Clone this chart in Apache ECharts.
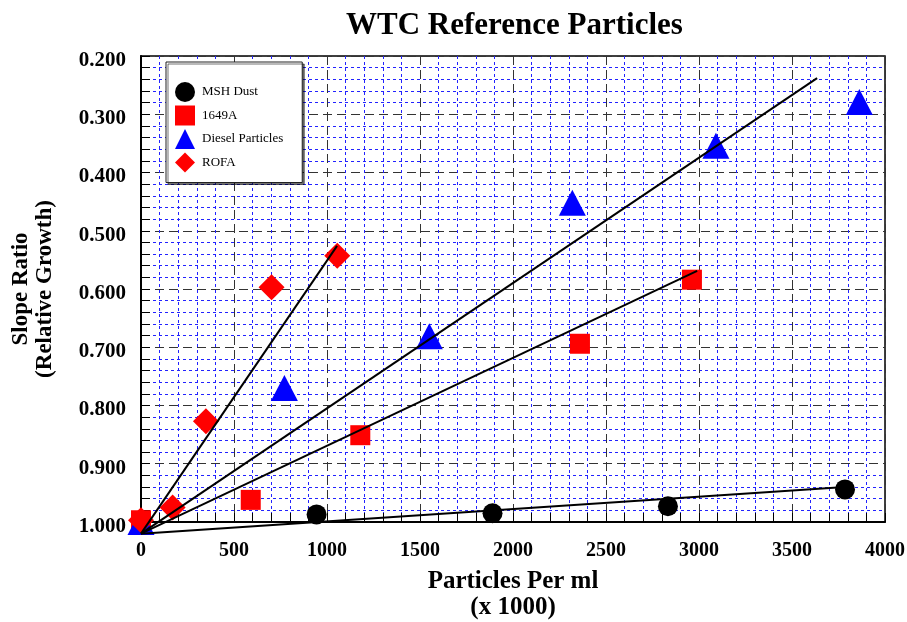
<!DOCTYPE html>
<html>
<head>
<meta charset="utf-8">
<script src="https://cdn.jsdelivr.net/npm/echarts@6/dist/echarts.min.js"></script>
<style>html,body{margin:0;padding:0;background:#fff}#c{width:907px;height:622px}</style>
</head>
<body>
<div id="c"></div>
<script>
var mshX = [944, 1890, 2833, 3785];
var mshY = [0.987, 0.985, 0.973, 0.944];
var a1649X = [0, 590, 1179, 2360, 2962];
var a1649Y = [0.997, 0.962, 0.851, 0.694, 0.584];
var dieselX = [0, 771, 1550, 2319, 3091, 3862];
var dieselY = [1.0, 0.770, 0.681, 0.452, 0.354, 0.279];
var rofaX = [0, 170, 349, 702, 1055];
var rofaY = [0.997, 0.975, 0.827, 0.597, 0.543];
// fitted lines: [x0, y0, x1, y1]
var mshFit = [0, 1.02, 3785, 0.940];
var a1649Fit = [0, 1.02, 2990, 0.569];
var dieselFit = [0, 1.02, 3635, 0.238];
var rofaFit = [0, 1.02, 1054, 0.526];
var seriesNames = ['MSH Dust', '1649A', 'Diesel Particles', 'ROFA'];

function pairs(xs, ys) { return xs.map(function (x, i) { return [x, ys[i]]; }); }
function fit(f) { return [[f[0], f[1]], [f[2], f[3]]]; }

var FONT = '"Liberation Serif", "Times New Roman", serif';
var chart = echarts.init(document.getElementById('c'), null, {renderer: 'canvas'});

function scatter(name, data, symbol, size, color) {
  return {
    type: 'scatter', name: name, data: data, symbol: symbol, symbolSize: size,
    itemStyle: {color: color, opacity: 1}, clip: false, z: 3
  };
}
function fitLine(data) {
  return {
    type: 'line', data: data, symbol: 'none', clip: false, z: 4, silent: true,
    lineStyle: {color: '#000', width: 2}
  };
}

chart.setOption({
  animation: false,
  backgroundColor: '#fff',
  title: {
    text: 'WTC Reference Particles', left: 341, top: 5,
    textStyle: {fontFamily: FONT, fontSize: 31, fontWeight: 'bold', color: '#000'}
  },
  legend: {
    data: seriesNames, orient: 'vertical', left: 166, top: 62,
    itemWidth: 20, itemHeight: 20, itemGap: 3.5,
    padding: [20, 19, 10, 9],
    backgroundColor: '#fff', borderColor: '#222', borderWidth: 1,
    shadowColor: 'rgba(0,0,0,0.55)', shadowOffsetX: 2, shadowOffsetY: 2, shadowBlur: 0,
    textStyle: {fontFamily: FONT, fontSize: 13, color: '#000', padding: [0, 0, 0, 2]}
  },
  grid: {left: 141, right: 22, top: 56, bottom: 100, show: true, borderColor: '#000', borderWidth: 1.5,
    containLabel: false, outerBoundsMode: 'none'},
  xAxis: {
    type: 'value', min: 0, max: 4000, interval: 500,
    name: 'Particles Per ml\n(x 1000)', nameLocation: 'middle', nameGap: 47,
    nameTextStyle: {fontFamily: FONT, fontSize: 25, fontWeight: 'bold', color: '#000', lineHeight: 26},
    axisLine: {show: true, lineStyle: {color: '#000', width: 2}},
    axisTick: {show: true, inside: true, length: 9, lineStyle: {color: '#000', width: 1}},
    minorTick: {show: true, splitNumber: 5, length: 9, lineStyle: {color: '#000', width: 1}},
    axisLabel: {fontFamily: FONT, fontSize: 20, fontWeight: 'bold', color: '#000', margin: 19,
      formatter: function (v) { return String(v); }},
    splitLine: {show: true, lineStyle: {color: '#333', width: 1, type: [9, 5]}},
    minorSplitLine: {show: true, lineStyle: {color: '#2222ff', width: 1, type: [3, 3]}}
  },
  yAxis: {
    type: 'value', min: 0.2, max: 1.0, interval: 0.1, inverse: true,
    name: 'Slope Ratio\n(Relative Growth)', nameLocation: 'middle', nameGap: 84, nameRotate: 90,
    nameTextStyle: {fontFamily: FONT, fontSize: 23, fontWeight: 'bold', color: '#000', lineHeight: 24},
    axisLine: {show: true, lineStyle: {color: '#000', width: 2}},
    axisTick: {show: true, inside: true, length: 9, lineStyle: {color: '#000', width: 1}},
    minorTick: {show: true, splitNumber: 5, length: 9, lineStyle: {color: '#000', width: 1}},
    axisLabel: {fontFamily: FONT, fontSize: 21, fontWeight: 'bold', color: '#000', margin: 15,
      verticalAlign: 'top', lineHeight: 9,
      formatter: function (v) { return v.toFixed(3); }},
    splitLine: {show: true, lineStyle: {color: '#333', width: 1, type: [9, 5]}},
    minorSplitLine: {show: true, lineStyle: {color: '#2222ff', width: 1, type: [3, 3]}}
  },
  series: [
    scatter(seriesNames[0], pairs(mshX, mshY), 'circle', 20, '#000'),
    scatter(seriesNames[1], pairs(a1649X, a1649Y), 'rect', 20, '#ff0000'),
    scatter(seriesNames[2], pairs(dieselX, dieselY), 'triangle', [27, 26], '#0000ff'),
    scatter(seriesNames[3], pairs(rofaX, rofaY), 'diamond', 26, '#ff0000'),
    fitLine(fit(mshFit)),
    fitLine(fit(a1649Fit)),
    fitLine(fit(dieselFit)),
    fitLine(fit(rofaFit))
  ]
});
</script>
</body>
</html>
